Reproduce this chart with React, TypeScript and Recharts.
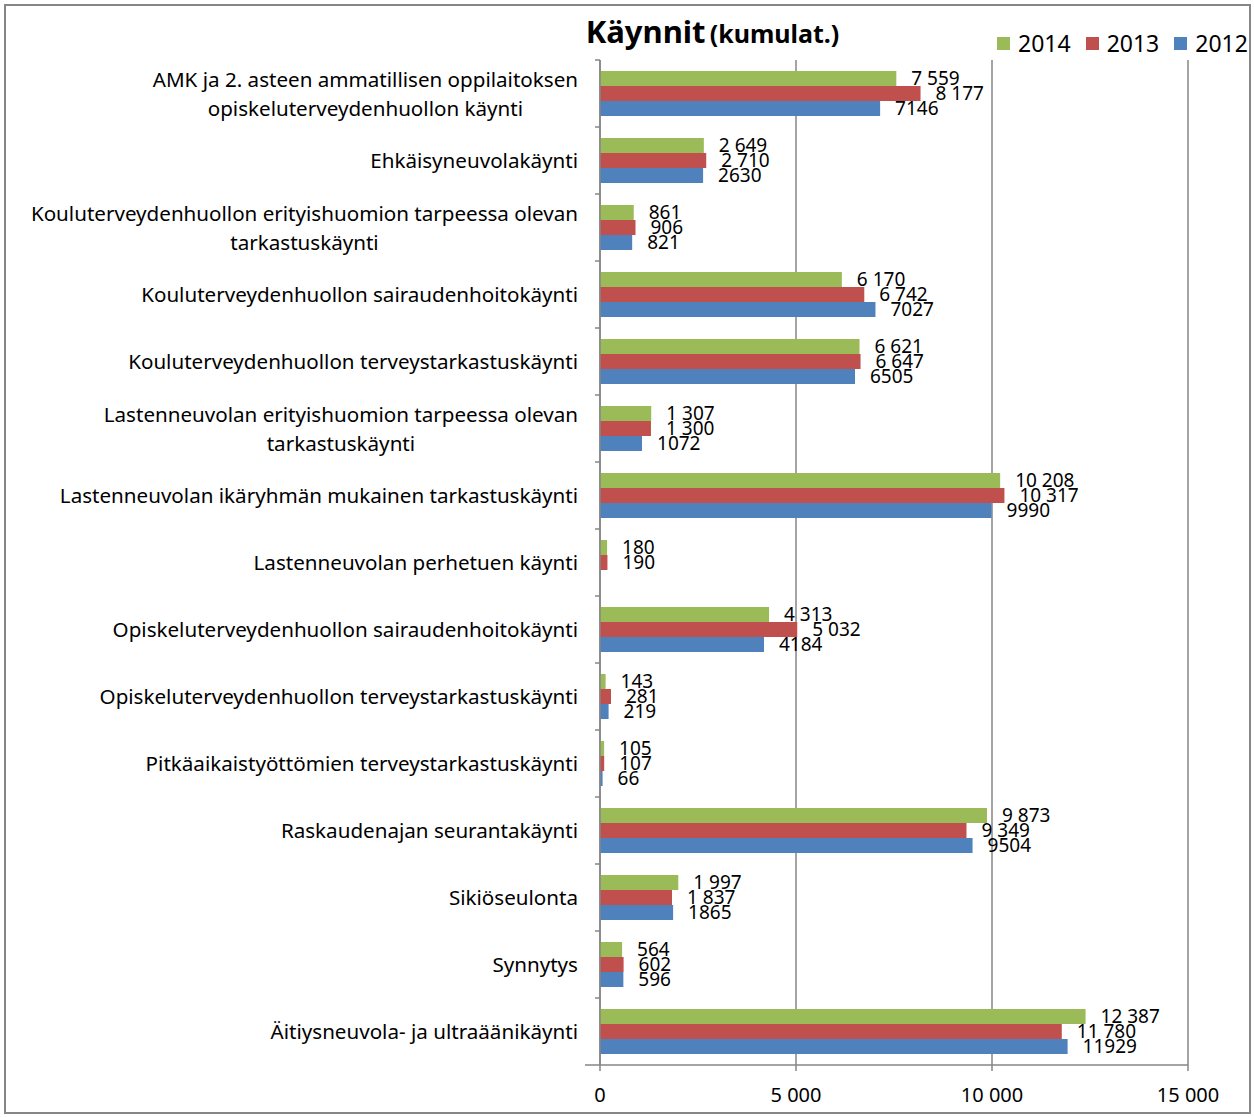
import { Bar, BarChart, CartesianGrid, LabelList, XAxis, YAxis } from "recharts";

const CATEGORIES = [
  "AMK ja 2. asteen ammatillisen oppilaitoksen\nopiskeluterveydenhuollon käynti",
  "Ehkäisyneuvolakäynti",
  "Kouluterveydenhuollon erityishuomion tarpeessa olevan\ntarkastuskäynti",
  "Kouluterveydenhuollon sairaudenhoitokäynti",
  "Kouluterveydenhuollon terveystarkastuskäynti",
  "Lastenneuvolan erityishuomion tarpeessa olevan\ntarkastuskäynti",
  "Lastenneuvolan ikäryhmän mukainen tarkastuskäynti",
  "Lastenneuvolan perhetuen käynti",
  "Opiskeluterveydenhuollon sairaudenhoitokäynti",
  "Opiskeluterveydenhuollon terveystarkastuskäynti",
  "Pitkäaikaistyöttömien terveystarkastuskäynti",
  "Raskaudenajan seurantakäynti",
  "Sikiöseulonta",
  "Synnytys",
  "Äitiysneuvola- ja ultraäänikäynti",
];

const VALUES_2014 = [7559, 2649, 861, 6170, 6621, 1307, 10208, 180, 4313, 143, 105, 9873, 1997, 564, 12387];
const VALUES_2013 = [8177, 2710, 906, 6742, 6647, 1300, 10317, 190, 5032, 281, 107, 9349, 1837, 602, 11780];
const VALUES_2012 = [7146, 2630, 821, 7027, 6505, 1072, 9990, null, 4184, 219, 66, 9504, 1865, 596, 11929];

const X_TICKS = [0, 5000, 10000, 15000];

const SERIES = [
  { key: "y2014", name: "2014", color: "#9bbb59", spaced: true },
  { key: "y2013", name: "2013", color: "#c0504d", spaced: true },
  { key: "y2012", name: "2012", color: "#4f81bd", spaced: false },
];

const FONT = '"Noto Sans", sans-serif';
const AXIS_GREY = "#868686";

const W = 1254;
const H = 1117;
const PLOT_LEFT = 600;
const PLOT_TOP = 60;
const PLOT_BOTTOM = 1065;
const BAND = (PLOT_BOTTOM - PLOT_TOP) / CATEGORIES.length;

const data = CATEGORIES.map((name, i) => ({
  name,
  y2014: VALUES_2014[i],
  y2013: VALUES_2013[i],
  y2012: VALUES_2012[i],
}));

const spaced = (v: any) => (v == null ? "" : String(v).replace(/\B(?=(\d{3})+(?!\d))/g, " "));
const plain = (v: any) => (v == null ? "" : String(v));

function CategoryTick(props: any) {
  const { y, payload, index } = props;
  const lines = String(payload.value).split("\n");
  const top = y - BAND / 2;
  return (
    <g>
      <line x1={PLOT_LEFT - 5} x2={PLOT_LEFT} y1={top} y2={top} stroke={AXIS_GREY} strokeWidth={1.5} />
      {index === CATEGORIES.length - 1 && (
        <line x1={PLOT_LEFT - 15} x2={PLOT_LEFT} y1={top + BAND} y2={top + BAND} stroke={AXIS_GREY} strokeWidth={1.5} />
      )}
      <foreignObject x={0} y={top} width={PLOT_LEFT - 22} height={BAND}>
        <div style={{ display: "flex", justifyContent: "flex-end", alignItems: "center", height: "100%" }}>
          <div style={{ textAlign: "center", fontFamily: FONT, fontSize: 20.6, lineHeight: "29px", color: "#000", whiteSpace: "nowrap" }}>
            {lines.map((l) => (
              <div key={l}>{l}</div>
            ))}
          </div>
        </div>
      </foreignObject>
    </g>
  );
}

export default function App() {
  return (
    <div style={{ position: "absolute", left: 0, top: 0, width: W, height: H, background: "#fff" }}>
      <div
        style={{
          position: "absolute",
          left: 4,
          top: 4,
          width: 1247,
          height: 1110,
          boxSizing: "border-box",
          border: `2px solid ${AXIS_GREY}`,
        }}
      />
      <div
        style={{
          position: "absolute",
          left: 480,
          top: 10,
          width: 465,
          textAlign: "center",
          fontFamily: FONT,
          fontWeight: 700,
          color: "#000",
          whiteSpace: "nowrap",
        }}
      >
        <span style={{ fontSize: 31 }}>Käynnit</span> <span style={{ fontSize: 25 }}>(kumulat.)</span>
      </div>
      <div style={{ position: "absolute", left: 997, top: 27, display: "flex", alignItems: "center", fontFamily: FONT, fontSize: 23 }}>
        {SERIES.map((s) => (
          <div key={s.key} style={{ display: "flex", alignItems: "center", marginRight: 15 }}>
            <span style={{ width: 13, height: 13, background: s.color, display: "inline-block", marginRight: 8 }} />
            <span>{s.name}</span>
          </div>
        ))}
      </div>
      <BarChart
        width={W}
        height={H}
        data={data}
        layout="vertical"
        barSize={15}
        barGap={0}
        margin={{ top: PLOT_TOP, right: W - 1188, bottom: 12, left: 0 }}
        style={{ position: "absolute", left: 0, top: 0 }}
      >
        <CartesianGrid horizontal={false} stroke={AXIS_GREY} strokeWidth={1.5} />
        <XAxis
          type="number"
          domain={[0, 15000]}
          ticks={X_TICKS}
          tickFormatter={spaced}
          height={40}
          tickSize={6}
          tickMargin={17}
          stroke={AXIS_GREY}
          tick={{ fill: "#000", fontSize: 20, fontFamily: FONT }}
          axisLine={{ stroke: AXIS_GREY, strokeWidth: 1.5 }}
          tickLine={{ stroke: AXIS_GREY, strokeWidth: 1.5 }}
        />
        <YAxis
          type="category"
          dataKey="name"
          width={PLOT_LEFT}
          interval={0}
          tickLine={false}
          axisLine={{ stroke: AXIS_GREY, strokeWidth: 1.5 }}
          tick={<CategoryTick />}
        />
        {SERIES.map((s) => (
          <Bar key={s.key} dataKey={s.key} name={s.name} fill={s.color} isAnimationActive={false}>
            <LabelList
              dataKey={s.key}
              position="right"
              offset={15}
              formatter={s.spaced ? spaced : plain}
              fill="#000"
              fontSize={19}
              fontFamily={FONT}
            />
          </Bar>
        ))}
      </BarChart>
    </div>
  );
}
